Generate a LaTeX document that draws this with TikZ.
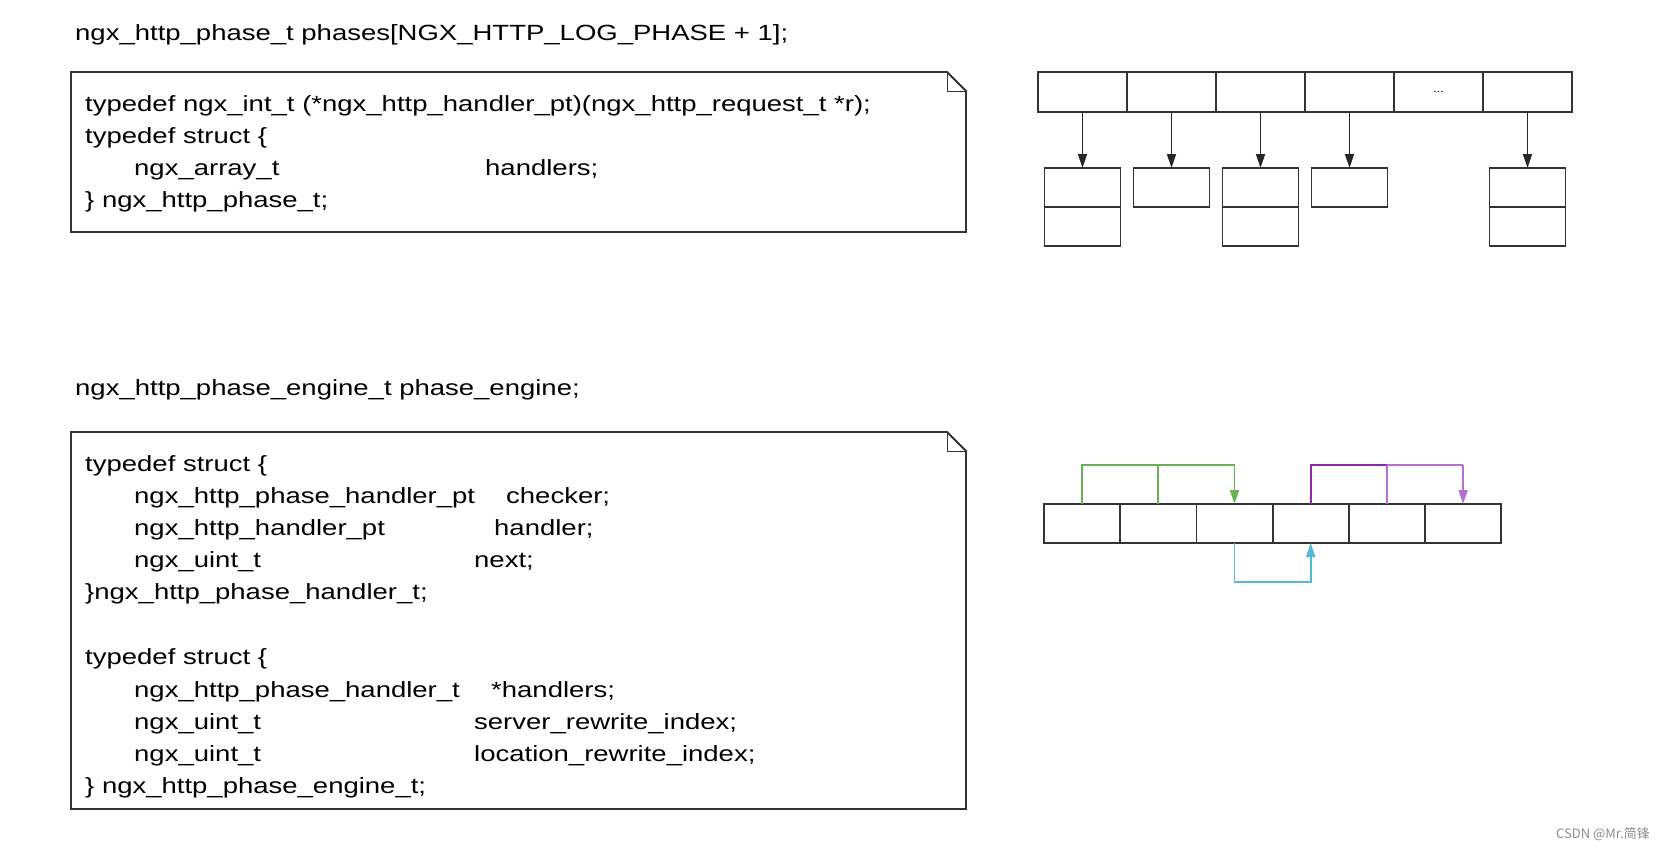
\documentclass[tikz,border=0pt]{standalone}
\usepackage{fontspec}
\setmainfont{Liberation Sans}[FakeStretch=1.25]
\usetikzlibrary{arrows.meta}
\definecolor{gr}{RGB}{106,176,84}
\definecolor{pd}{RGB}{140,40,170}
\definecolor{pl}{RGB}{182,110,208}
\definecolor{bl}{RGB}{84,184,214}
\begin{document}
\begin{tikzpicture}[x=1pt,y=-1pt,
  txt/.style={anchor=base west,inner sep=0pt,font=\fontsize{22}{26}\selectfont},
  cell/.style={draw=black!80,line width=1.8pt,minimum width=89pt,minimum height=40pt,inner sep=0pt,outer sep=0pt},
  bcell/.style={draw=black!80,line width=1.8pt,minimum width=76.2pt,minimum height=39pt,inner sep=0pt,outer sep=0pt},
  sub/.style={draw=black!80,line width=1.8pt,minimum width=76pt,minimum height=39pt,inner sep=0pt,outer sep=0pt},
  card/.style={draw=black!80,line width=1.8pt},
  arr/.style={-{Triangle[length=14pt,width=9pt]},line width=1.5pt},
  gar/.style={line width=1.8pt}]
\useasboundingbox (0,0) rectangle (1663,849);
% titles
\node[txt] (t1) at (75,40) {ngx\_http\_phase\_t phases[NGX\_HTTP\_LOG\_PHASE + 1];};
\node[txt] (t2) at (75,395) {ngx\_http\_phase\_engine\_t phase\_engine;};
% box 1
\draw[card] (71,72) -- (947,72) -- (966,91) -- (966,232) -- (71,232) -- cycle;
\draw[card,line width=1pt] (947,72) -- (947,91) -- (966,91);
\node[txt] (a1) at (85,111) {typedef ngx\_int\_t (*ngx\_http\_handler\_pt)(ngx\_http\_request\_t *r);};
\node[txt] (a2) at (85,143) {typedef struct \{};
\node[txt] (a3) at (134,175) {ngx\_array\_t};
\node[txt] (a3b) at (485,175) {handlers;};
\node[txt] (a4) at (85,207) {\} ngx\_http\_phase\_t;};
% box 2
\draw[card] (71,432) -- (947,432) -- (966,451) -- (966,809) -- (71,809) -- cycle;
\draw[card,line width=1pt] (947,432) -- (947,451) -- (966,451);
\node[txt] (b1) at (85,471) {typedef struct \{};
\node[txt] (b2) at (134,503) {ngx\_http\_phase\_handler\_pt};
\node[txt] (b2b) at (506,503) {checker;};
\node[txt] (b3) at (134,535) {ngx\_http\_handler\_pt};
\node[txt] (b3b) at (494,535) {handler;};
\node[txt] (b4) at (134,567) {ngx\_uint\_t};
\node[txt] (b4b) at (474,567) {next;};
\node[txt] (b5) at (85,599) {\}ngx\_http\_phase\_handler\_t;};
\node[txt] (c1) at (85,664) {typedef struct \{};
\node[txt] (c2) at (134,697) {ngx\_http\_phase\_handler\_t};
\node[txt] (c2b) at (491,697) {*handlers;};
\node[txt] (c3) at (134,729) {ngx\_uint\_t};
\node[txt] (c3b) at (474,729) {server\_rewrite\_index;};
\node[txt] (c4) at (134,761) {ngx\_uint\_t};
\node[txt] (c4b) at (474,761) {location\_rewrite\_index;};
\node[txt] (c5) at (85,793) {\} ngx\_http\_phase\_engine\_t;};
% top array
\foreach \i/\x in {1/1082.5,2/1171.5,3/1260.5,4/1349.5,5/1438.5,6/1527.5}
  \node[cell] (p\i) at (\x,92) {};
\node[font=\fontsize{10}{10}\selectfont,inner sep=0pt] (dots) at (p5) {...};
\foreach \i/\x in {1/1082.5,2/1171.5,3/1260.5,4/1349.5,6/1527.5}
  \node[sub] (s\i) at (\x,187.5) {};
\foreach \i/\x in {1/1082.5,3/1260.5,6/1527.5}
  \node[sub] (u\i) at (\x,226.5) {};
\foreach \i in {1,2,3,4,6}
  \draw[arr,black!85] (p\i.south) -- (s\i.north);
% bottom array
\foreach \i in {1,...,6}
  \node[bcell] (q\i) at ({1044+76.2*(\i-0.5)},523.5) {};
\coordinate (g1) at (q1.north |- 0,465);
\coordinate (g3) at (q3.north |- 0,465);
\draw[gar,gr] (q1.north) -- (g1) -- (g3);
\draw[gar,gr] (q2.north) -- (q2.north |- g1);
\draw[arr,gr,line width=1.8pt] (g3) -- (q3.north);
\coordinate (v1) at (q4.north |- 0,465);
\coordinate (v3) at (q6.north |- 0,465);
\draw[gar,pd] (q4.north) -- (v1) -- (q5.north |- v1);
\draw[gar,pl] (q5.north |- v1) -- (v3);
\draw[gar,pl] (q5.north) -- (q5.north |- v1);
\draw[arr,pl,line width=1.8pt] (v3) -- (q6.north);
\coordinate (w1) at (q3.south |- 0,582);
\coordinate (w2) at (q4.south |- 0,582);
\draw[arr,bl,line width=1.8pt] (q3.south) -- (w1) -- (w2) -- (q4.south);
% watermark
\newfontfamily\cjkf{Noto Sans CJK SC}
\node[anchor=base east,inner sep=0pt,text=black!45,font=\cjkf\fontsize{13}{13}\selectfont] (wm) at (1650,838) {CSDN @Mr.简锋};
\end{tikzpicture}
\end{document}
